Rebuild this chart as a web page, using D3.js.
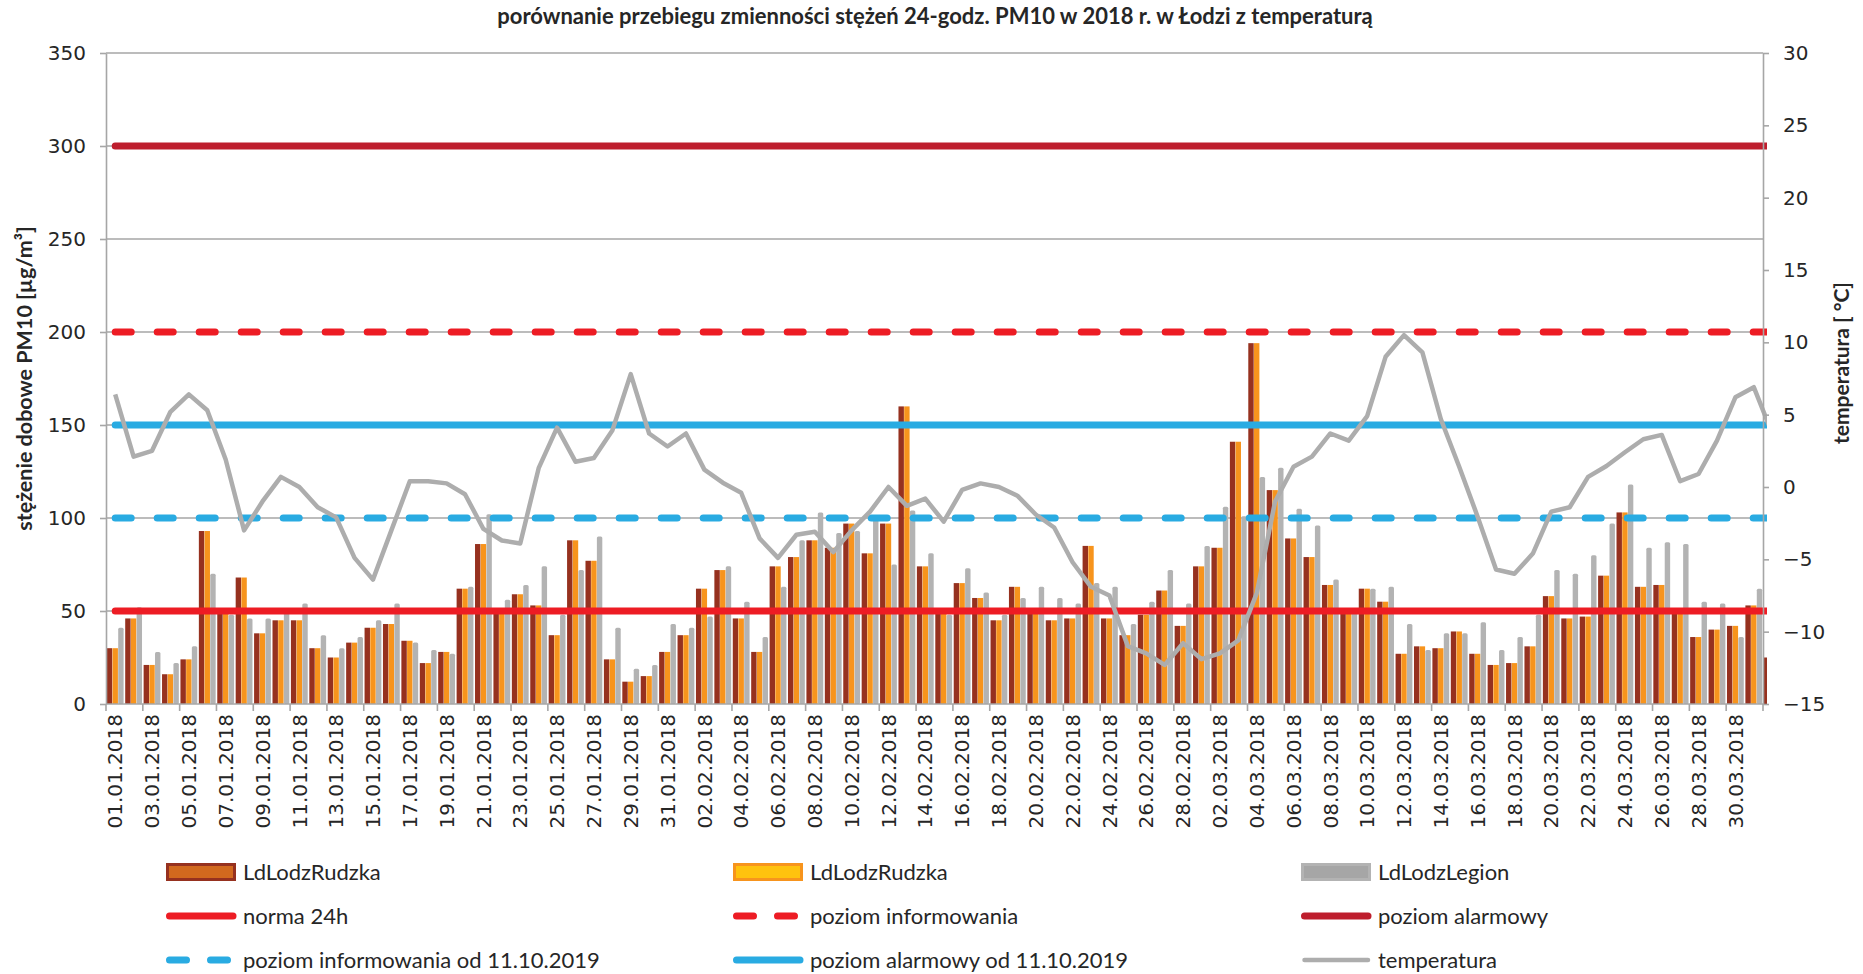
<!DOCTYPE html>
<html>
<head>
<meta charset="utf-8">
<script src="https://cdn.jsdelivr.net/npm/d3@7"></script>
<style>
  body { margin: 0; background: #fff; }
  text { fill: #262626; }
</style>
</head>
<body>
<svg id="chart"></svg>
<script>
// ---- data (01.01.2018 - 31.03.2018, plus one clipped day) ----
const seriesNames = ["LdLodzRudzka", "LdLodzRudzka", "LdLodzLegion"];

// daily PM10 at Rudzka (both Rudzka series show the same values)
const rudzka = [30, 46, 21, 16, 24, 93, 50, 68, 38, 45, 45, 30, 25, 33, 41, 43, 34, 22, 28, 62,
  86, 49, 59, 53, 37, 88, 77, 24, 12, 15, 28, 37, 62, 72, 46, 28, 74, 79, 88, 84,
  97, 81, 97, 160, 74, 50, 65, 57, 45, 63, 49, 45, 46, 85, 46, 37, 48, 61, 42, 74,
  84, 141, 194, 115, 89, 79, 64, 49, 62, 55, 27, 31, 30, 39, 27, 21, 22, 31, 58, 46,
  47, 69, 103, 63, 64, 50, 36, 40, 42, 53, 25];

// daily PM10 at Legion
const legion = [41, 52, 28, 22, 31, 70, 48, 46, 46, 49, 54, 37, 30, 36, 45, 54, 33, 29, 27, 63,
  102, 56, 64, 74, 48, 72, 90, 41, 19, 21, 43, 41, 47, 74, 55, 36, 63, 88, 103, 92,
  93, 99, 75, 104, 81, 48, 73, 60, 48, 57, 63, 57, 54, 65, 63, 43, 55, 72, 54, 85,
  106, 101, 122, 127, 105, 96, 67, 49, 62, 63, 43, 29, 38, 38, 44, 29, 36, 48, 72, 70,
  80, 97, 118, 84, 87, 86, 55, 54, 36, 62, null];

// daily mean temperature [°C]
const temperature = [6.4, 2.1, 2.5, 5.2, 6.4, 5.3, 1.9, -3.0, -1.0, 0.7, 0.0, -1.4, -2.1, -4.9, -6.4, -3.0, 0.4, 0.4, 0.25, -0.5,
  -2.9, -3.7, -3.9, 1.3, 4.1, 1.75, 2.0, 3.9, 7.8, 3.7, 2.8, 3.7, 1.2, 0.3, -0.4, -3.55, -4.9, -3.3, -3.1, -4.5,
  -3.0, -1.7, 0.0, -1.3, -0.8, -2.4, -0.2, 0.25, 0.0, -0.6, -1.9, -2.8, -5.2, -6.9, -7.5, -11.0, -11.5, -12.3, -10.8, -11.9,
  -11.5, -10.6, -7.35, -1.0, 1.4, 2.1, 3.7, 3.2, 4.9, 9.0, 10.5, 9.3, 4.7, 1.4, -2.05, -5.7, -6.0, -4.6, -1.7, -1.4,
  0.7, 1.45, 2.4, 3.3, 3.6, 0.4, 0.9, 3.2, 6.2, 6.9, 3.7];

// limit levels [µg/m³]
const limitNames = ["norma 24h", "poziom informowania", "poziom alarmowy",
  "poziom informowania od 11.10.2019", "poziom alarmowy od 11.10.2019"];
const limitValues = [50, 200, 300, 100, 150];

const leftTicks = [0, 50, 100, 150, 200, 250, 300, 350];
const rightTicks = [-15, -10, -5, 0, 5, 10, 15, 20, 25, 30];

const titleText = "porównanie przebiegu zmienności stężeń 24-godz. PM10 w 2018 r. w Łodzi z temperaturą";

// ---- layout ----
var width = 1863, height = 974;
var plotLeft = 106, plotTop = 53;
var plotW = 1657, plotH = 651;
var nAxisCats = 90; // categories shown on the axis, the 91st day is clipped

var days = d3.timeDay.range(new Date(2018, 0, 1), new Date(2018, 3, 2));
var fmt = d3.timeFormat("%d.%m.%Y");
var step = plotW / nAxisCats;

var svg = d3.select("#chart").attr("width", width).attr("height", height);

var x = d3.scaleBand().domain(d3.range(rudzka.length)).range([0, step * rudzka.length]);
var inner = d3.scaleBand().domain([0, 1, 2]).range([0.8, step - 0.8]).paddingInner(0.05);
var y = d3.scaleLinear().domain([0, 350]).range([plotH, 0]);
var yT = d3.scaleLinear().domain([-15, 30]).range([plotH, 0]);

var barColors = ["#96311f", "#f7941d", "#b3b3b3"];
var limitColors = ["#ed1c24", "#ed1c24", "#be1e2d", "#29abe2", "#29abe2"];
var limitDash = [null, "16 26", null, "16 26", null];
var tempColor = "#adadad";
var axisColor = "#a6a6a6";

var g = svg.append("g").attr("transform", "translate(" + plotLeft + "," + plotTop + ")");

svg.append("defs").append("clipPath").attr("id", "plotClip")
  .append("rect").attr("x", -10).attr("y", -10).attr("width", plotW + 14).attr("height", plotH + 10);

// title
svg.append("text")
  .attr("x", 935).attr("y", 24)
  .attr("text-anchor", "middle")
  .style("font-family", "Lato").style("font-weight", "bold").style("font-size", "22px")
  .text(titleText);

// gridlines
g.append("g").selectAll("line")
  .data(leftTicks.filter(d => d > 0))
  .enter().append("line")
  .attr("x1", 0).attr("x2", plotW)
  .attr("y1", d => y(d)).attr("y2", d => y(d))
  .attr("stroke", axisColor).attr("stroke-width", 1.6);

// bars
var plot = g.append("g").attr("clip-path", "url(#plotClip)");
var barSeries = [rudzka, rudzka, legion];
barSeries.forEach(function (vals, s) {
  plot.append("g").selectAll("rect")
    .data(vals.map((v, i) => ({i: i, v: v})).filter(d => d.v != null))
    .enter().append("rect")
    .attr("x", d => x(d.i) + inner(s))
    .attr("width", inner.bandwidth())
    .attr("y", d => y(d.v))
    .attr("height", d => plotH - y(d.v))
    .attr("rx", s == 2 ? 1.5 : 0)
    .attr("fill", barColors[s]);
});

// limit lines
limitValues.forEach(function (v, k) {
  plot.append("line")
    .attr("x1", x(0) + x.bandwidth() / 2)
    .attr("x2", x(rudzka.length - 1) + x.bandwidth() / 2)
    .attr("y1", y(v)).attr("y2", y(v))
    .attr("stroke", limitColors[k])
    .attr("stroke-width", 7)
    .attr("stroke-linecap", "round")
    .attr("stroke-dasharray", limitDash[k]);
});

// temperature
plot.append("path")
  .datum(temperature)
  .attr("fill", "none")
  .attr("stroke", tempColor)
  .attr("stroke-width", 4.5)
  .attr("stroke-linejoin", "round")
  .attr("d", d3.line().x((d, i) => x(i) + x.bandwidth() / 2).y(d => yT(d)));

// axes
function styleAxis(sel) {
  sel.selectAll(".domain").attr("stroke", axisColor).attr("stroke-width", 1.6);
  sel.selectAll(".tick line").attr("stroke", axisColor).attr("stroke-width", 1.6);
  sel.selectAll("text").style("font-family", "DejaVu Sans").style("font-size", "20px").attr("fill", "#262626");
}

g.append("g")
  .call(d3.axisLeft(y).tickValues(leftTicks).tickSize(6).tickPadding(14).tickSizeOuter(0))
  .call(styleAxis);

g.append("g")
  .attr("transform", "translate(" + plotW + ",0)")
  .call(d3.axisRight(yT).tickValues(rightTicks).tickSize(6).tickPadding(14).tickSizeOuter(0))
  .call(styleAxis);

// category axis
var xAxis = g.append("g").attr("transform", "translate(0," + plotH + ")");
xAxis.append("line").attr("x1", 0).attr("x2", plotW)
  .attr("stroke", axisColor).attr("stroke-width", 1.6);
xAxis.selectAll(".tk")
  .data(d3.range(0, nAxisCats + 1, 2))
  .enter().append("line")
  .attr("x1", d => x(d)).attr("x2", d => x(d))
  .attr("y1", 0).attr("y2", 7)
  .attr("stroke", axisColor).attr("stroke-width", 1.6);
xAxis.selectAll("text")
  .data(d3.range(0, nAxisCats, 2))
  .enter().append("text")
  .attr("transform", d => "translate(" + (x(d) + x.bandwidth() / 2) + ",10) rotate(-90)")
  .attr("text-anchor", "end")
  .attr("dy", "0.36em")
  .style("font-family", "DejaVu Sans").style("font-size", "20px")
  .text(d => fmt(days[d]));

// axis titles
svg.append("text")
  .attr("transform", "translate(32," + (plotTop + plotH / 2) + ") rotate(-90)")
  .attr("text-anchor", "middle")
  .style("font-family", "Lato").style("font-weight", "bold").style("font-size", "21.5px")
  .text("stężenie dobowe PM10 [µg/m³]");

svg.append("text")
  .attr("transform", "translate(1849,363) rotate(-90)")
  .attr("text-anchor", "middle")
  .style("font-family", "Lato").style("font-weight", "bold").style("font-size", "21px")
  .text("temperatura [ °C]");

// legend
var legendItems = [
  {name: seriesNames[0], kind: "box", stroke: "#96311f", fill: "#d2691e"},
  {name: seriesNames[1], kind: "box", stroke: "#f7941d", fill: "#ffc20e"},
  {name: seriesNames[2], kind: "box", stroke: "#b3b3b3", fill: "#a6a6a6"}
];
limitNames.forEach((n, k) => legendItems.push({name: n, kind: "line", stroke: limitColors[k], dash: limitDash[k], w: 7}));
legendItems.push({name: "temperatura", kind: "line", stroke: tempColor, dash: null, w: 4.5});

var colX = [166, 733, 1301];
var rowY = [872, 916, 960];
var legend = svg.append("g");
legendItems.forEach(function (it, k) {
  var cx = colX[k % 3], cy = rowY[Math.floor(k / 3)];
  if (it.kind == "box") {
    legend.append("rect")
      .attr("x", cx + 1.5).attr("y", cy - 7.5).attr("width", 67).attr("height", 15)
      .attr("fill", it.fill).attr("stroke", it.stroke).attr("stroke-width", 3);
  } else {
    legend.append("line")
      .attr("x1", cx + 3.5).attr("x2", cx + 67)
      .attr("y1", cy).attr("y2", cy)
      .attr("stroke", it.stroke).attr("stroke-width", it.w)
      .attr("stroke-linecap", "round")
      .attr("stroke-dasharray", it.dash ? "17 24" : null);
  }
  legend.append("text")
    .attr("x", cx + 77).attr("y", cy)
    .attr("dy", "0.35em")
    .style("font-family", "Lato").style("font-size", "22px")
    .text(it.name);
});
</script>
</body>
</html>
